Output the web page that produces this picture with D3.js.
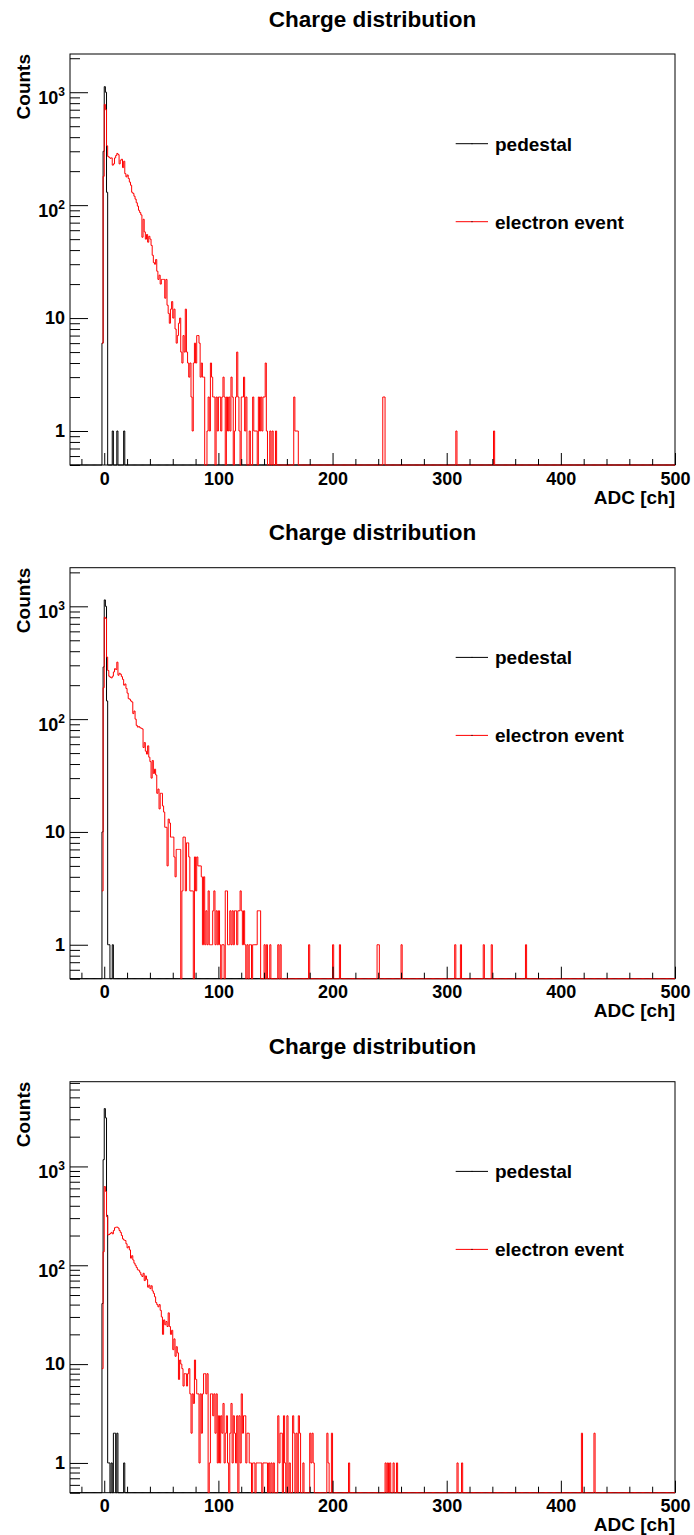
<!DOCTYPE html>
<meta charset="utf-8">
<script src="https://d3js.org/d3.v7.min.js"></script>
<style>
  body { margin: 0; background: #fff; }
  text { font-family: "Liberation Sans", Arial, sans-serif; font-weight: bold; }
</style>
<div id="my_dataviz"></div>
<script>

// ADC axis and the channel where each dense count array begins
var adcRange = [-30, 500];
var firstChannel = -2;
var xMajorTicks = [0, 100, 200, 300, 400, 500];
var yMajorTicks = [1, 10, 100, 1000];
var yMin = 0.5;
var yMax = [2180, 2200, 7200];
var legendNames = ["pedestal", "electron event"];

// panel 1 (counts per ADC channel, from channel -2)
var ped1 = [6, 300, 1120, 1000, 130];
var ped1Tail = [[7, 1], [11, 1], [17, 1]];
var ele1 = [6, 180, 780, 700, 335, 270, 265, 260, 262, 226,
  232, 262, 275, 287, 280, 232, 250, 255, 215, 245,
  190, 178, 185, 172, 160, 150, 130, 127, 120, 113,
  105, 98, 90, 86, 82, 52, 75, 58, 50, 55,
  47, 53, 50, 44, 36, 31, 30, 33, 26, 22,
  24, 20, 22, 22, 22, 15, 22, 13, 11, 9,
  12, 14, 10, 12, 8, 6, 7, 9, 10, 5,
  4, 7, 5, 12, 5, 4, 3, 4, 2, 1,
  4, 6, 4, 7, 7, 6, 3, 4, 3, 3,
  0, 0, 1, 2, 1, 4, 3, 2, 2, 0,
  2, 1, 2, 2, 1, 2, 3, 2, 0, 2,
  1, 2, 1, 3, 2, 0, 1, 2, 5, 2,
  1, 0, 2, 2, 3, 1, 2, 0, 0, 1,
  0, 0, 2, 1, 1, 1, 0, 2, 1, 2,
  1, 2, 2, 4, 1, 0, 0, 1, 0, 1];
var ele1Tail = [[150, 1], [166, 2], [167, 1], [168, 1], [169, 1], [244, 2], [245, 2], [308, 1], [341, 1]];

// panel 2
var ped2 = [10, 290, 1140, 1000, 145, 1, 1];
var ped2Tail = [[7, 1]];
var ele2 = [3, 190, 800, 780, 355, 270, 240, 235, 232, 240,
  262, 280, 275, 320, 245, 255, 250, 238, 225, 200,
  205, 187, 170, 152, 150, 145, 142, 112, 118, 100,
  88, 85, 86, 84, 83, 82, 56, 62, 52, 49,
  58, 46, 42, 30, 43, 33, 36, 32, 22, 24,
  16, 22, 22, 17, 15, 11, 11, 5, 13, 12,
  9, 9, 9, 6, 4, 7, 7, 7, 7, 0,
  3, 9, 9, 3, 8, 8, 6, 3, 3, 3,
  0, 6, 3, 6, 5, 5, 5, 4, 1, 4,
  1, 2, 1, 3, 1, 1, 1, 2, 3, 1,
  2, 1, 2, 1, 0, 1, 1, 0, 3, 3,
  1, 1, 2, 1, 2, 1, 2, 2, 1, 2,
  2, 3, 2, 1, 2, 1, 0, 1, 0, 1,
  1, 0, 1, 1, 1, 1, 2, 2, 2];
var ele2Tail = [[140, 1], [142, 1], [145, 1], [152, 1], [154, 1], [179, 1], [200, 1], [206, 1],
  [239, 1], [240, 1], [260, 1], [307, 1], [312, 1], [332, 1], [339, 1], [369, 1]];

// panel 3
var ped3 = [41, 1170, 3850, 3100, 320, 1, 1, 0, 1, 0, 2, 2, 0, 2];
var ped3Tail = [[17, 1]];
var ele3 = [9, 137, 626, 560, 310, 203, 205, 210, 215, 208,
  225, 240, 243, 243, 238, 225, 215, 200, 185, 180,
  178, 165, 150, 155, 143, 118, 125, 113, 105, 100,
  95, 90, 89, 85, 80, 77, 83, 70, 78, 72,
  60, 63, 58, 62, 55, 52, 48, 42, 40, 38,
  40, 35, 30, 20, 28, 25, 27, 24, 33, 24,
  20, 22, 14, 18, 12, 15, 13, 7, 11, 10,
  9, 6, 8, 8, 6, 8, 9, 5, 2, 5,
  4, 11, 7, 5, 5, 1, 5, 2, 5, 8,
  8, 5, 8, 0, 1, 5, 5, 3, 5, 2,
  5, 1, 3, 1, 3, 2, 4, 1, 2, 3,
  1, 0, 2, 4, 1, 3, 2, 1, 3, 0,
  3, 1, 5, 2, 3, 3, 1, 2, 2, 1,
  1, 0, 1, 1, 0, 1, 1, 1, 1, 1,
  0, 1, 1, 1, 1, 0, 1];
var ele3Tail = [[146, 1], [148, 1], [152, 3], [153, 1], [154, 2], [155, 2], [157, 3], [158, 1],
  [160, 3], [162, 1], [165, 3], [166, 2], [168, 2], [170, 3], [171, 2], [174, 1],
  [180, 2], [181, 1], [182, 2], [183, 1], [195, 2], [196, 1], [199, 2], [214, 1],
  [246, 1], [248, 1], [250, 1], [253, 1], [256, 1], [309, 1], [313, 1], [418, 2], [429, 2]];

var panels = [
  {ped: ped1, pedTail: ped1Tail, ele: ele1, eleTail: ele1Tail, top: 54},
  {ped: ped2, pedTail: ped2Tail, ele: ele2, eleTail: ele2Tail, top: 567.7},
  {ped: ped3, pedTail: ped3Tail, ele: ele3, eleTail: ele3Tail, top: 1081.7}
];

var width = 694, height = 1535;
var frameLeft = 70, frameRight = 675, frameHeight = 411;

var svg = d3.select("#my_dataviz")
  .append("svg")
  .attr("width", width)
  .attr("height", height);

var x = d3.scaleLinear().domain(adcRange).range([frameLeft, frameRight]);

// turn dense array + sparse tail into [channel, count] points
function toBins(dense, tail, startCh) {
  var counts = {};
  dense.forEach(function(v, i) { counts[firstChannel + i] = v; });
  tail.forEach(function(p) { counts[p[0]] = p[1]; });
  var pts = [];
  for (var c = startCh; c < adcRange[1]; c++) pts.push([c, counts[c] || 0]);
  pts.push([adcRange[1], counts[adcRange[1] - 1] || 0]);
  return pts;
}

function supLabel(sel, v) {
  var e = Math.round(Math.log10(v));
  sel.text(null);
  if (e < 2) { sel.text(String(v)); return; }
  sel.attr("dy", null).attr("y", 11);
  sel.append("tspan").text("10");
  sel.append("tspan").attr("dy", -8).style("font-size", "12px").text(e);
}

panels.forEach(function(p, i) {
  var top = p.top, bottom = top + frameHeight;
  var y = d3.scaleLog().domain([yMin, yMax[i]]).range([bottom, top]).clamp(true);
  var g = svg.append("g");

  // title
  g.append("text")
    .attr("x", (frameLeft + frameRight) / 2)
    .attr("y", top - 27.5)
    .attr("text-anchor", "middle")
    .style("font-size", "22.5px")
    .text("Charge distribution");

  // frame first, histograms drawn over it (as ROOT does)
  g.append("rect")
    .attr("x", frameLeft).attr("y", top)
    .attr("width", frameRight - frameLeft).attr("height", frameHeight)
    .attr("fill", "none").attr("stroke", "#000").attr("stroke-width", 1);

  var line = d3.line()
    .x(function(d) { return x(d[0]); })
    .y(function(d) { return y(d[1] > 0 ? d[1] : yMin); })
    .curve(d3.curveStepAfter);

  g.append("path")
    .datum(toBins(p.ped, p.pedTail, adcRange[0]))
    .attr("fill", "none")
    .attr("stroke", "#000")
    .attr("stroke-width", 1)
    .attr("d", line);

  g.append("path")
    .datum(toBins(p.ele, p.eleTail, firstChannel))
    .attr("fill", "none")
    .attr("stroke", "#ff0000")
    .attr("stroke-width", 1)
    .attr("d", line);

  // x axis: major + minor ticks pointing into the frame
  var xMinor = d3.range(-20, adcRange[1], 20).filter(function(v) { return v % 100 !== 0; });
  var xa = g.append("g")
    .attr("transform", "translate(0," + bottom + ")")
    .call(d3.axisBottom(x).tickValues(xMajorTicks).tickSize(-12).tickPadding(7));
  xa.select(".domain").remove();
  xa.selectAll("text").style("font-size", "18px").attr("fill", "#000");
  var xm = g.append("g")
    .attr("transform", "translate(0," + bottom + ")")
    .call(d3.axisBottom(x).tickValues(xMinor).tickSize(-6).tickFormat(""));
  xm.select(".domain").remove();

  g.append("text")
    .attr("x", frameRight)
    .attr("y", bottom + 38.5)
    .attr("text-anchor", "end")
    .style("font-size", "19px")
    .text("ADC [ch]");

  // y axis
  var yMinor = [];
  [0.1, 1, 10, 100, 1000].forEach(function(d) {
    for (var k = 2; k <= 9; k++) {
      var v = k * d;
      if (v >= yMin && v <= yMax[i]) yMinor.push(v);
    }
  });
  var ya = g.append("g")
    .attr("transform", "translate(" + frameLeft + ",0)")
    .call(d3.axisLeft(y).tickValues(yMajorTicks).tickSize(-18).tickPadding(5));
  ya.select(".domain").remove();
  ya.selectAll("text")
    .style("font-size", "18px").attr("fill", "#000")
    .each(function(v) { supLabel(d3.select(this), v); });
  var ym = g.append("g")
    .attr("transform", "translate(" + frameLeft + ",0)")
    .call(d3.axisLeft(y).tickValues(yMinor).tickSize(-10).tickFormat(""));
  ym.select(".domain").remove();

  g.append("text")
    .attr("transform", "translate(30," + top + ") rotate(-90)")
    .attr("text-anchor", "end")
    .style("font-size", "19px")
    .text("Counts");

  // legend
  var colors = ["#000", "#ff0000"];
  [89.7, 167.7].forEach(function(dy, j) {
    var ly = top + dy;
    g.append("line")
      .attr("x1", 455.7).attr("x2", 488).attr("y1", ly).attr("y2", ly)
      .attr("stroke", colors[j]).attr("stroke-width", 1);
    g.append("rect")
      .attr("x", 471.5).attr("y", ly - 0.5).attr("width", 1).attr("height", 1)
      .attr("fill", "#000");
    g.append("text")
      .attr("x", 495).attr("y", ly + 7)
      .style("font-size", "19px")
      .text(legendNames[j]);
  });
});
</script>
